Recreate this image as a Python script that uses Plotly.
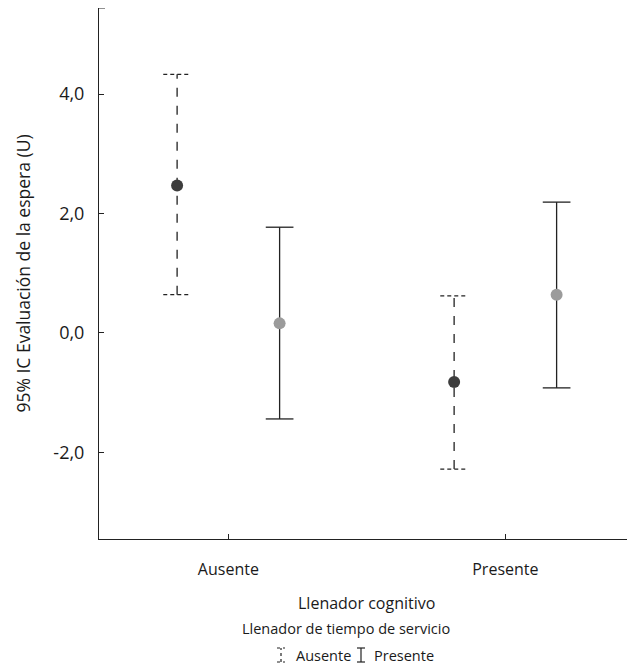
import plotly.graph_objects as go

# ---- data ----
categories = ["Ausente", "Presente"]          # Llenador cognitivo
series_names = ["Ausente", "Presente"]        # Llenador de tiempo de servicio
means = {"Ausente": [2.47, -0.82], "Presente": [0.16, 0.64]}
upper = {"Ausente": [4.33, 0.62], "Presente": [1.77, 2.19]}
lower = {"Ausente": [0.64, -2.28], "Presente": [-1.44, -0.92]}
y_ticks = [-2, 0, 2, 4]
y_ticklabels = [f"{v:.1f}".replace(".", ",") for v in y_ticks]

# ---- style ----
OFF = 8  # default page body margin
W, H = 635 - OFF, 670 - OFF
ML, MR, MT, MB = 99 - OFF, 0, 0, H - (539 - OFF)
PW, PH = W - ML - MR, H - MT - MB
point_colors = {"Ausente": "#3d3d3d", "Presente": "#9b9b9b"}
dash_style = {"Ausente": "dash", "Presente": "solid"}
offsets = {"Ausente": -0.185, "Presente": 0.185}
cap_half = 0.05
FONT = "Open Sans"
TXT = "#1a1a1a"

fig = go.Figure()
for s in series_names:
    for i, c in enumerate(categories):
        x = i + offsets[s]
        lo, hi, m = lower[s][i], upper[s][i], means[s][i]
        fig.add_trace(go.Scatter(x=[x, x], y=[lo, hi], mode="lines",
                                 line=dict(color="#222222", width=1.3, dash=dash_style[s]),
                                 showlegend=False, hoverinfo="skip"))
        for yv in (lo, hi):
            fig.add_trace(go.Scatter(x=[x - cap_half, x + cap_half], y=[yv, yv], mode="lines",
                                     line=dict(color="#222222", width=1.3,
                                               dash="4px,3px" if s == "Ausente" else "solid"),
                                     showlegend=False, hoverinfo="skip"))
    fig.add_trace(go.Scatter(x=[i + offsets[s] for i in range(len(categories))],
                             y=means[s], mode="markers",
                             marker=dict(color=point_colors[s], size=12, line=dict(width=0)),
                             name=s, showlegend=False))


def px_x(p):  # page pixel -> paper
    return (p - OFF - ML) / PW


def px_y(p):
    return (H - MB - (p - OFF)) / PH


annotations = [
    dict(text="Llenador cognitivo", x=px_x(366), y=px_y(603), size=16),
    dict(text="Llenador de tiempo de servicio", x=px_x(346), y=px_y(628), size=14.5),
    dict(text="Ausente", x=px_x(294), y=px_y(655), xanchor="left", size=14.5),
    dict(text="Presente", x=px_x(372), y=px_y(655), xanchor="left", size=14.5),
]
for a in annotations:
    sz = a.pop("size")
    a.update(xref="paper", yref="paper", showarrow=False,
             font=dict(family=FONT, size=sz, color=TXT))
    a.setdefault("xanchor", "center")
    a["yanchor"] = "middle"

shapes = []
for cx, dash in ((281, "dot"), (361, "solid")):
    x0, x1 = px_x(cx - 4), px_x(cx + 4)
    xc = px_x(cx)
    yt, yb = px_y(648), px_y(662)
    ln = dict(color="#222222", width=1.2, dash=dash)
    shapes += [
        dict(type="line", xref="paper", yref="paper", x0=xc, x1=xc, y0=yb, y1=yt, line=ln),
        dict(type="line", xref="paper", yref="paper", x0=x0, x1=x1, y0=yt, y1=yt, line=ln),
        dict(type="line", xref="paper", yref="paper", x0=x0, x1=x1, y0=yb, y1=yb, line=ln),
    ]
shapes.append(dict(type="line", xref="paper", yref="paper", x0=0, x1=px_x(105),
                   y0=1, y1=1, line=dict(color="#222222", width=1)))

fig.update_layout(
    width=W, height=H,
    margin=dict(l=ML, r=MR, t=MT, b=MB),
    paper_bgcolor="white", plot_bgcolor="white",
    annotations=annotations,
    shapes=shapes,
    xaxis=dict(range=[-0.467, 1.468], tickmode="array", tickvals=list(range(len(categories))),
               ticktext=categories, ticks="inside", ticklen=5, tickcolor="#222222",
               showline=True, linecolor="#222222", linewidth=1, showgrid=False, zeroline=False,
               ticklabelstandoff=16,
               tickfont=dict(family=FONT, size=16, color=TXT)),
    yaxis=dict(range=[-3.45, 5.44], tickmode="array", tickvals=y_ticks, ticktext=y_ticklabels,
               ticks="inside", ticklen=5, tickcolor="#222222",
               showline=True, linecolor="#222222", linewidth=1, showgrid=False, zeroline=False,
               ticklabelstandoff=10,
               tickfont=dict(family=FONT, size=18, color=TXT),
               title=dict(text="95% IC Evaluación de la espera (U)", standoff=18,
                          font=dict(family=FONT, size=17.5, color=TXT))),
)

fig.write_html("out.html")
